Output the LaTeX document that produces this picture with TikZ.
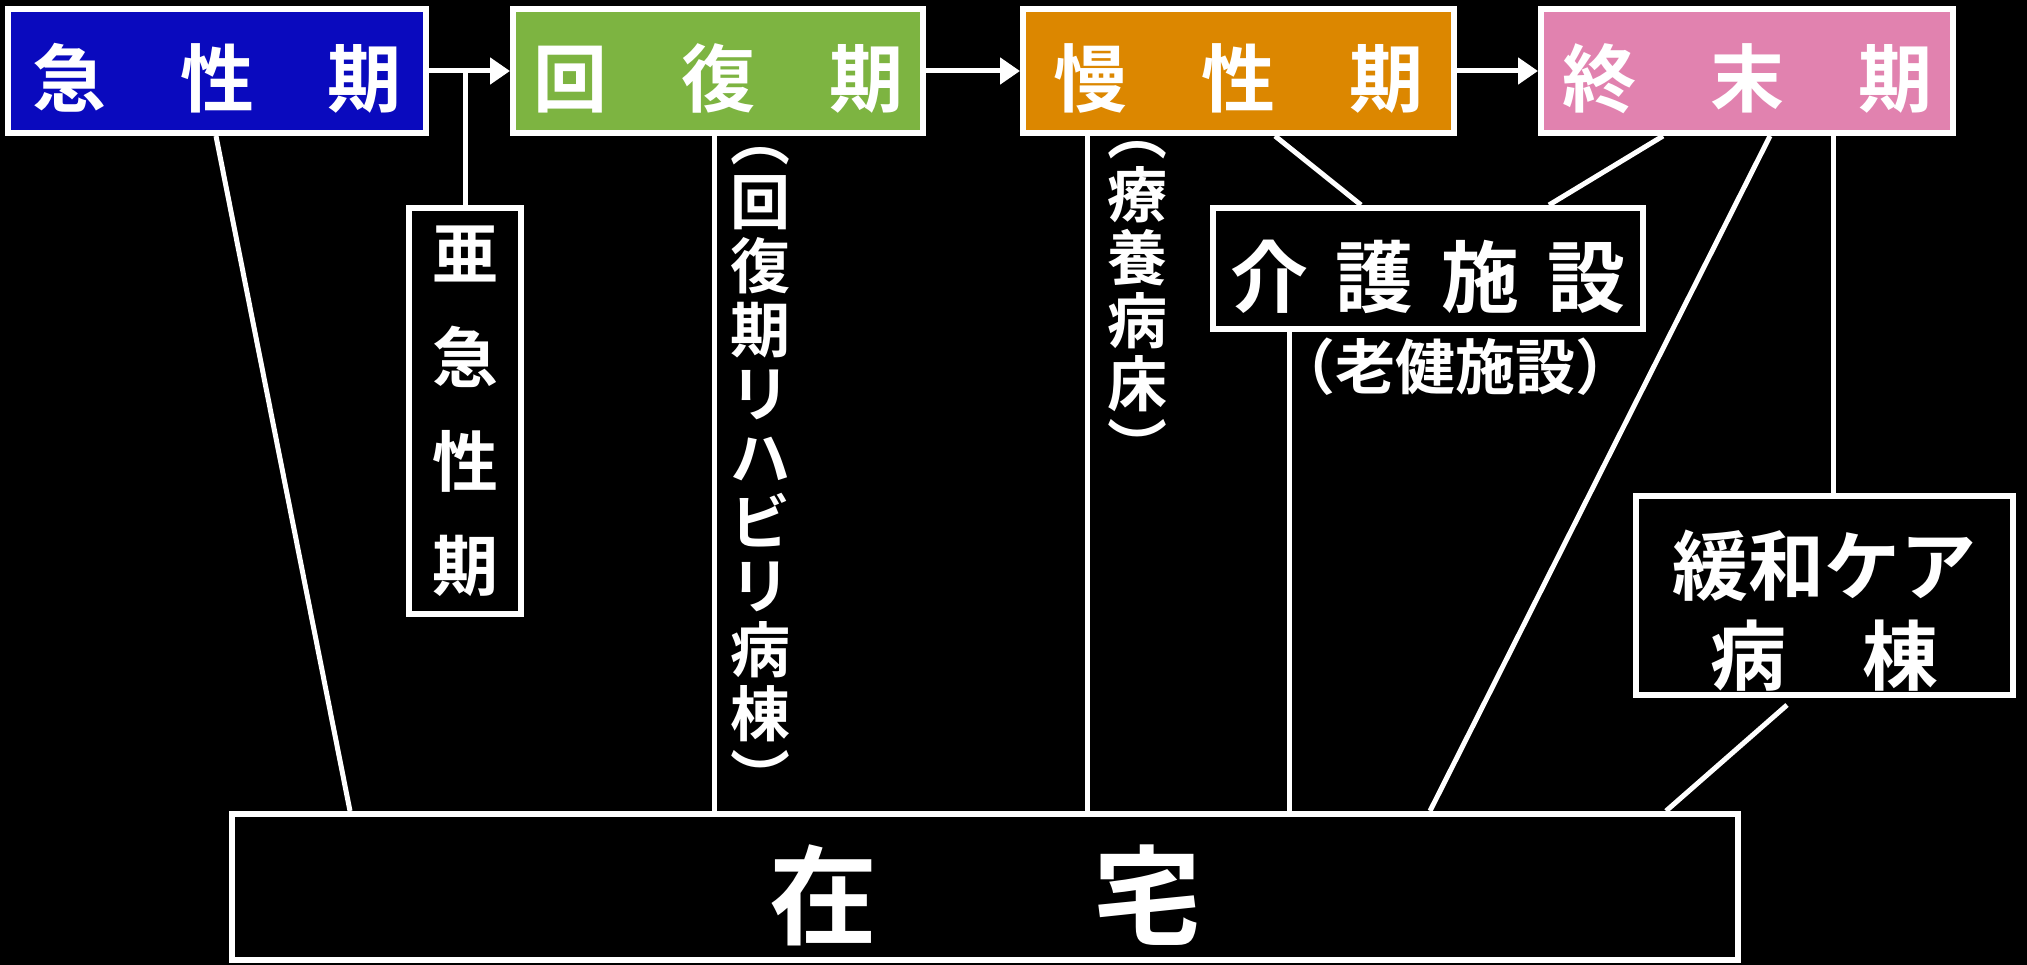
\documentclass[tikz,border=0pt]{standalone}
\usepackage{fontspec}
\IfFontExistsTF{Noto Sans CJK JP Bold}{\setmainfont{Noto Sans CJK JP Bold}}{\setmainfont{Noto Sans CJK JP}[FakeBold=1.5]}
\usetikzlibrary{arrows.meta}
\definecolor{cblue}{RGB}{10,10,190}
\definecolor{cgreen}{RGB}{125,180,65}
\definecolor{corange}{RGB}{220,135,0}
\definecolor{cpink}{RGB}{225,130,175}
\tikzset{
  box/.style={draw=white, line width=6pt, inner sep=0pt, text=white, align=center},
  conn/.style={draw=white, line width=5pt},
  arr/.style={draw=white, line width=5pt, -{Triangle[length=20pt,width=26pt]}},
  lbl/.style={text=white, inner sep=0pt, align=center},
  phase/.style={box, minimum height=124pt, font=\fontsize{74}{80}\selectfont, text height=72pt, text depth=0pt}
}
\begin{document}
\begin{tikzpicture}[x=1pt,y=-1pt]
\fill[black] (0,0) rectangle (2027,965);
\useasboundingbox (0,0) rectangle (2027,965);

% top phases
\node[phase, fill=cblue, minimum width=418pt] (a1) at (217,71) {急　性　期};
\node[phase, fill=cgreen, minimum width=410pt] (a2) at (718,71) {回　復　期};
\node[phase, fill=corange, minimum width=431pt] (a3) at (1238.5,71) {慢　性　期};
\node[phase, fill=cpink, minimum width=412pt] (a4) at (1747,71) {終　末　期};

% sub-acute
\node[box, fill=black, minimum width=112pt, minimum height=406pt, font=\fontsize{66}{104}\selectfont] (sub) at (465,411)
  {亜\\急\\性\\期};

% care facility
\node[box, fill=black, minimum width=430pt, minimum height=121pt, font=\fontsize{78}{80}\selectfont, text height=76pt, text depth=0pt] (kaigo) at (1428,268.5)
  {介\hspace{28pt}護\hspace{28pt}施\hspace{28pt}設};
\node[lbl, anchor=base, font=\fontsize{60}{64}\selectfont] (roken) at (1455,390) {（老健施設）};

% palliative
\node[box, fill=black, minimum width=377pt, minimum height=199pt, font=\fontsize{76}{90}\selectfont] (kanwa) at (1824.5,595.5)
  {\rule{0pt}{97pt}緩和ケア\\病　棟\rule[-10pt]{0pt}{10pt}};

% home
\node[box, fill=black, minimum width=1506pt, minimum height=146pt, font=\fontsize{108}{110}\selectfont, text height=98pt, text depth=0pt] (home) at (985,887)
  {在　　宅};

% vertical labels
\node[lbl, font=\fontsize{60}{64}\selectfont] (rehab) at (760,474)
  {︵\\回\\復\\期\\リ\\ハ\\ビ\\リ\\病\\棟\\︶};
\node[lbl, font=\fontsize{60}{63}\selectfont] (ryoyo) at (1137,305)
  {︵\\療\\養\\病\\床\\︶};

% arrows
\draw[arr] (a1.east) -- (a2.west);
\draw[arr] (a2.east) -- (a3.west);
\draw[arr] (a3.east) -- (a4.west);
\draw[conn] (sub.north) -- (sub.north |- a1.east);

% connectors
\draw[conn] ([xshift=-1pt]a1.south) -- ([xshift=-635pt]home.north);
\draw[conn] ([xshift=-4pt]a2.south) -- ([xshift=-4pt]a2.south |- home.north);
\draw[conn] ([xshift=-151.5pt]a3.south) -- ([xshift=-151.5pt]a3.south |- home.north);
\draw[conn] ([xshift=36.5pt]a3.south) -- ([xshift=-67pt]kaigo.north);
\draw[conn] ([xshift=-84pt]a4.south) -- ([xshift=121pt]kaigo.north);
\draw[conn] ([xshift=23pt]a4.south) -- ([xshift=445pt]home.north);
\draw[conn] ([xshift=86pt]a4.south) -- ([xshift=86pt]a4.south |- kanwa.north);
\draw[conn] ([xshift=-139pt]kaigo.south) -- ([xshift=-139pt]kaigo.south |- home.north);
\draw[conn] ([xshift=-37.5pt,yshift=-7pt]kanwa.south) -- ([xshift=681pt]home.north);
\end{tikzpicture}
\end{document}
